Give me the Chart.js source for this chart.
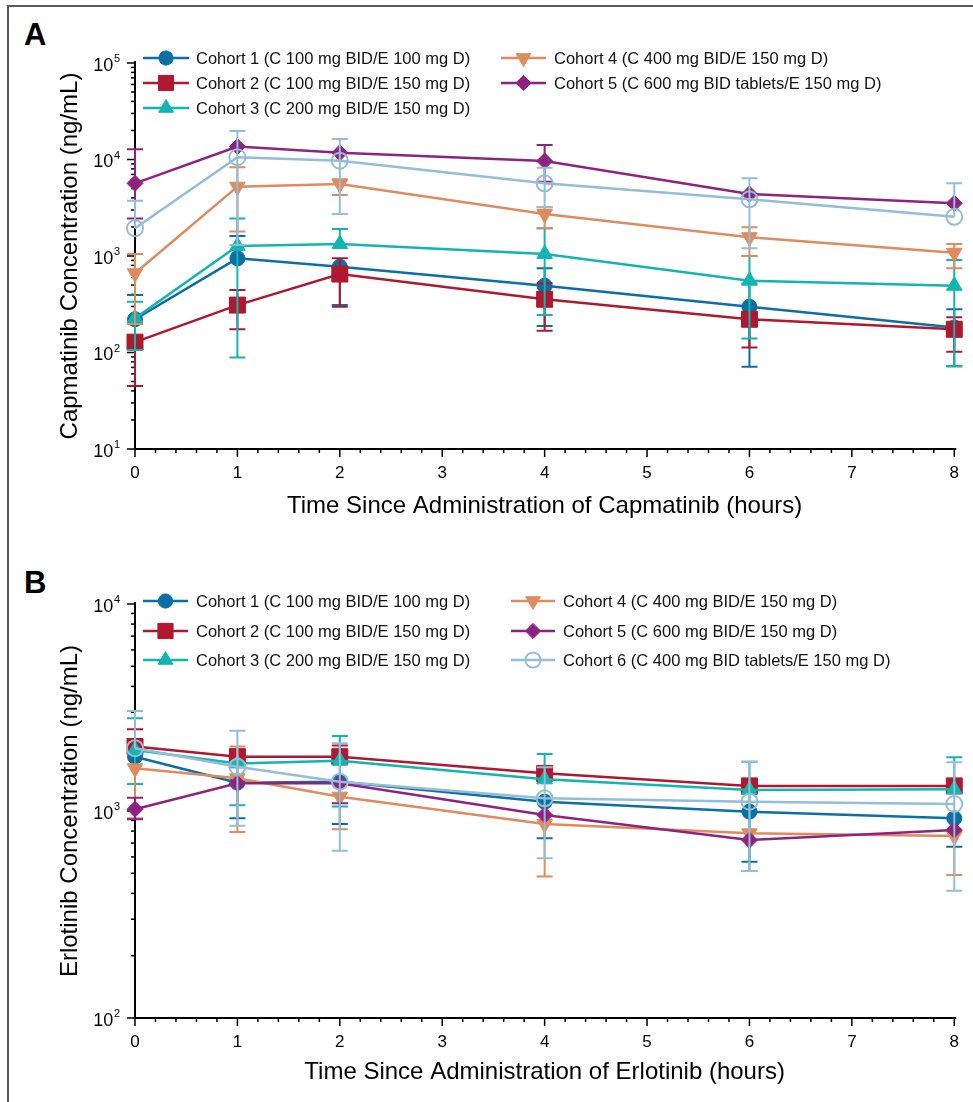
<!DOCTYPE html>
<html>
<head>
<meta charset="utf-8">
<script src="https://cdn.jsdelivr.net/npm/chart.js@4.4.0/dist/chart.umd.min.js"></script>
<style>
  html, body { margin: 0; padding: 0; background: #fff; }
  body { width: 973px; height: 1102px; position: relative; overflow: hidden; font-family: 'Liberation Sans', Arial, sans-serif; }
  #frame { position: absolute; left: 7px; top: 5px; width: 1000px; height: 1120px; border-left: 2px solid #5a5a5a; border-top: 2px solid #5a5a5a; }
  .tag { position: absolute; left: 24px; font-weight: bold; font-size: 31px; line-height: 1; color: #000; }
  canvas { position: absolute; left: 0; }
</style>
</head>
<body>
<div id="frame"></div>
<div class="tag" style="top:19px">A</div>
<div class="tag" style="top:567px">B</div>
<canvas id="chartA" width="973" height="540" style="top:0"></canvas>
<canvas id="chartB" width="973" height="557" style="top:545px"></canvas>
<script>
// sampling times (hours)
const times = [0, 1, 2, 4, 6, 8];

// Panel A - capmatinib concentration (ng/mL): mean, lower and upper error limits
const capC1 = [221, 946, 775, 492, 298, 182];
const capC1Lo = [null, null, 310, 188, 71, 72];
const capC1Hi = [395, 1610, null, 747, 520, 281];
const capC2 = [128, 310, 650, 356, 221, 174];
const capC2Lo = [45, 174, 298, 168, 113, 102];
const capC2Hi = [null, 444, 946, 521, null, 232];
const capC3 = [226, 1270, 1330, 1050, 555, 492];
const capC3Lo = [106, 89, null, 245, 140, 72];
const capC3Hi = [336, 2440, 1905, 1940, 1000, 910];
const capC4 = [662, 5230, 5570, 2720, 1565, 1080];
const capC4Lo = [197, 1790, 4290, 1940, 1000, 747];
const capC4Hi = [1050, 8300, 6240, 3200, 1980, 1330];
const capC5 = [5660, 13600, 11750, 9640, 4390, 3520];
const capC5Lo = [2440, null, null, 5890, null, null];
const capC5Hi = [12800, null, null, 14100, null, null];
const capC6 = [1940, 10550, 9720, 5660, 3870, 2550];
const capC6Lo = [null, 1300, 2720, 3200, 1200, null];
const capC6Hi = [3745, 19700, 16300, 8220, 6380, 5660];

// Panel B - erlotinib concentration (ng/mL)
const erlC1 = [1830, 1371, 1386, 1109, 993, 922];
const erlC1Lo = [null, 922, 865, 738, 569, 672];
const erlC1Hi = [null, null, null, null, null, null];
const erlC2 = [2050, 1830, 1830, 1520, 1322, 1322];
const erlC2Lo = [null, null, null, null, null, null];
const erlC2Hi = [2480, null, 2070, 1625, null, null];
const erlC3 = [1970, 1698, 1750, 1422, 1263, 1273];
const erlC3Lo = [1350, 1065, 1050, null, 513, null];
const erlC3Hi = [2805, null, 2300, 1884, 1730, 1817];
const erlC4 = [1607, 1439, 1173, 865, 780, 757];
const erlC4Lo = [922, 792, 816, 482, null, 491];
const erlC4Hi = [null, 2047, null, null, null, null];
const erlC5 = [1019, 1360, 1360, 957, 724, 809];
const erlC5Lo = [912, null, 1090, null, null, null];
const erlC5Hi = [1160, null, null, null, null, null];
const erlC6 = [2010, 1637, 1386, 1151, 1109, 1081];
const erlC6Lo = [null, 849, 643, 592, 513, 412];
const erlC6Hi = [3040, 2445, 2123, 1625, 1730, 1718];

const labelsA = [
  'Cohort 1 (C 100 mg BID/E 100 mg D)',
  'Cohort 2 (C 100 mg BID/E 150 mg D)',
  'Cohort 3 (C 200 mg BID/E 150 mg D)',
  'Cohort 4 (C 400 mg BID/E 150 mg D)',
  'Cohort 5 (C 600 mg BID tablets/E 150 mg D)',
  'Cohort 6'
];
const labelsB = [
  'Cohort 1 (C 100 mg BID/E 100 mg D)',
  'Cohort 2 (C 100 mg BID/E 150 mg D)',
  'Cohort 3 (C 200 mg BID/E 150 mg D)',
  'Cohort 4 (C 400 mg BID/E 150 mg D)',
  'Cohort 5 (C 600 mg BID/E 150 mg D)',
  'Cohort 6 (C 400 mg BID tablets/E 150 mg D)'
];

const FONT = "'Liberation Sans', Arial, Helvetica, sans-serif";
Chart.defaults.font.family = FONT;
Chart.defaults.color = '#000';

// marker look per cohort
const styles = [
  { color: '#0b6fa4', pointStyle: 'circle', radius: 7.5, rotation: 0, fill: true },
  { color: '#b0182f', pointStyle: 'rect', radius: 11.3, rotation: 0, fill: true },
  { color: '#12b5b0', pointStyle: 'triangle', radius: 9, rotation: 0, fill: true },
  { color: '#de8b5f', pointStyle: 'triangle', radius: 9, rotation: 180, fill: true },
  { color: '#8e237f', pointStyle: 'rectRot', radius: 8, rotation: 0, fill: true },
  { color: '#94bdd8', pointStyle: 'circle', radius: 8, rotation: 0, fill: false }
];

function makeDataset(i, label, values, lo, hi) {
  const s = styles[i];
  return {
    label: label,
    data: times.map((t, k) => ({ x: t, y: values[k] })),
    errLo: lo,
    errHi: hi,
    borderColor: s.color,
    borderWidth: 2.5,
    tension: 0,
    pointStyle: s.pointStyle,
    pointRotation: s.rotation,
    pointRadius: s.radius,
    pointBackgroundColor: s.fill ? s.color : 'rgba(255,255,255,0)',
    pointBorderColor: s.color,
    pointBorderWidth: s.fill ? 1 : 2,
    order: 6 - i,
    clip: false
  };
}

// error bars, drawn right after each series so the layering follows series order
const errorBars = {
  id: 'errorBars',
  afterDatasetDraw(chart, args) {
    const ds = chart.data.datasets[args.index];
    const ys = chart.scales.y;
    const ctx = chart.ctx;
    ctx.save();
    ctx.strokeStyle = ds.borderColor;
    ctx.lineWidth = 2;
    args.meta.data.forEach((pt, k) => {
      const x = pt.x;
      const y = pt.y;
      [ds.errLo[k], ds.errHi[k]].forEach(v => {
        if (v == null) return;
        const ey = ys.getPixelForValue(v);
        ctx.beginPath();
        ctx.moveTo(x, y);
        ctx.lineTo(x, ey);
        ctx.moveTo(x - 8, ey);
        ctx.lineTo(x + 8, ey);
        ctx.stroke();
      });
    });
    ctx.restore();
  }
};

// axis lines, tick marks and the 10^n labels
const logAxes = {
  id: 'logAxes',
  beforeDatasetsDraw(chart) {
    const ctx = chart.ctx;
    const area = chart.chartArea;
    const xs = chart.scales.x;
    const ys = chart.scales.y;
    ctx.save();
    ctx.strokeStyle = '#000';
    ctx.lineWidth = 1.5;
    for (let k = 0; k <= 40; k++) {
      const px = xs.getPixelForValue(k / 5);
      const len = k % 5 === 0 ? 8 : 4;
      ctx.beginPath();
      ctx.moveTo(px, area.bottom);
      ctx.lineTo(px, area.bottom + len);
      ctx.stroke();
    }
    const d0 = Math.round(Math.log10(ys.min));
    const d1 = Math.round(Math.log10(ys.max));
    for (let d = d0; d <= d1; d++) {
      for (let m = 1; m <= 9; m++) {
        const v = m * Math.pow(10, d);
        if (v > ys.max * 1.0001) break;
        const py = ys.getPixelForValue(v);
        const len = m === 1 ? 8 : 4;
        ctx.beginPath();
        ctx.moveTo(area.left - len, py);
        ctx.lineTo(area.left, py);
        ctx.stroke();
      }
      const py = ys.getPixelForValue(Math.pow(10, d));
      const right = area.left - 15;
      ctx.fillStyle = '#000';
      ctx.textBaseline = 'middle';
      ctx.textAlign = 'right';
      ctx.font = '11px ' + FONT;
      const ew = ctx.measureText(String(d)).width;
      ctx.fillText(String(d), right, py - 4);
      ctx.font = '18px ' + FONT;
      ctx.fillText('10', right - ew - 0.5, py + 3);
    }
    ctx.lineWidth = 2;
    ctx.beginPath();
    ctx.moveTo(area.left, area.top - 2);
    ctx.lineTo(area.left, area.bottom);
    ctx.lineTo(area.right + 2, area.bottom);
    ctx.stroke();
    ctx.restore();
  }
};

// two-column legend placed inside the plot
const cohortLegend = {
  id: 'cohortLegend',
  afterDraw(chart, args, opts) {
    const ctx = chart.ctx;
    ctx.save();
    opts.items.forEach(item => {
      const ds = chart.data.datasets[item[0]];
      const col = opts.cols[item[1]];
      const y = opts.rows[item[2]];
      ctx.strokeStyle = ds.borderColor;
      ctx.lineWidth = 2.5;
      ctx.beginPath();
      ctx.moveTo(col.x0, y);
      ctx.lineTo(col.x1, y);
      ctx.stroke();
      ctx.fillStyle = ds.pointBackgroundColor;
      ctx.strokeStyle = ds.pointBorderColor;
      ctx.lineWidth = ds.pointBorderWidth;
      Chart.helpers.drawPoint(ctx, {
        pointStyle: ds.pointStyle,
        rotation: ds.pointRotation,
        radius: ds.pointRadius * 0.95,
        borderWidth: ds.pointBorderWidth
      }, (col.x0 + col.x1) / 2, y);
      ctx.fillStyle = '#111';
      ctx.font = '16.5px ' + FONT;
      ctx.textAlign = 'left';
      ctx.textBaseline = 'middle';
      ctx.fillText(ds.label, col.text, y + 1);
    });
    ctx.restore();
  }
};

function makeOptions(yMin, yMax, yTitle, xTitle, padding, xHeight, xTitlePad, legend) {
  return {
    responsive: false,
    animation: false,
    events: [],
    layout: { padding: padding, autoPadding: false },
    scales: {
      x: {
        type: 'linear',
        min: 0,
        max: 8,
        grid: { display: false, drawTicks: false },
        border: { display: false },
        ticks: { stepSize: 1, padding: 14, font: { size: 17 }, color: '#000' },
        title: { display: true, text: xTitle, font: { size: 24 }, color: '#000', padding: { top: 0, bottom: xTitlePad } },
        afterFit: s => { s.height = xHeight; }
      },
      y: {
        type: 'logarithmic',
        min: yMin,
        max: yMax,
        grid: { display: false, drawTicks: false },
        border: { display: false },
        ticks: { display: false },
        title: { display: true, text: yTitle, font: { size: 24 }, color: '#000', padding: { top: 56, bottom: 0 } },
        afterFit: s => { s.width = 135; }
      }
    },
    plugins: {
      legend: { display: false },
      tooltip: { enabled: false },
      cohortLegend: legend
    }
  };
}

new Chart(document.getElementById('chartA'), {
  type: 'line',
  data: {
    datasets: [
      makeDataset(0, labelsA[0], capC1, capC1Lo, capC1Hi),
      makeDataset(1, labelsA[1], capC2, capC2Lo, capC2Hi),
      makeDataset(2, labelsA[2], capC3, capC3Lo, capC3Hi),
      makeDataset(3, labelsA[3], capC4, capC4Lo, capC4Hi),
      makeDataset(4, labelsA[4], capC5, capC5Lo, capC5Hi),
      makeDataset(5, labelsA[5], capC6, capC6Lo, capC6Hi)
    ]
  },
  options: makeOptions(10, 100000,
    'Capmatinib Concentration (ng/mL)',
    'Time Since Administration of Capmatinib (hours)',
    { left: 0, top: 63, right: 12, bottom: 11 }, 80, 8,
    {
      cols: [{ x0: 143, x1: 189, text: 196 }, { x0: 501, x1: 546, text: 554 }],
      rows: [58, 83, 108],
      items: [[0, 0, 0], [1, 0, 1], [2, 0, 2], [3, 1, 0], [4, 1, 1]]
    }),
  plugins: [logAxes, errorBars, cohortLegend]
});

new Chart(document.getElementById('chartB'), {
  type: 'line',
  data: {
    datasets: [
      makeDataset(0, labelsB[0], erlC1, erlC1Lo, erlC1Hi),
      makeDataset(1, labelsB[1], erlC2, erlC2Lo, erlC2Hi),
      makeDataset(2, labelsB[2], erlC3, erlC3Lo, erlC3Hi),
      makeDataset(3, labelsB[3], erlC4, erlC4Lo, erlC4Hi),
      makeDataset(4, labelsB[4], erlC5, erlC5Lo, erlC5Hi),
      makeDataset(5, labelsB[5], erlC6, erlC6Lo, erlC6Hi)
    ]
  },
  options: makeOptions(100, 10000,
    'Erlotinib Concentration (ng/mL)',
    'Time Since Administration of Erlotinib (hours)',
    { left: 0, top: 59, right: 12, bottom: 9 }, 75, 6,
    {
      cols: [{ x0: 143, x1: 188, text: 196 }, { x0: 511, x1: 555, text: 563 }],
      rows: [56, 86, 115],
      items: [[0, 0, 0], [1, 0, 1], [2, 0, 2], [3, 1, 0], [4, 1, 1], [5, 1, 2]]
    }),
  plugins: [logAxes, errorBars, cohortLegend]
});
</script>
</body>
</html>
